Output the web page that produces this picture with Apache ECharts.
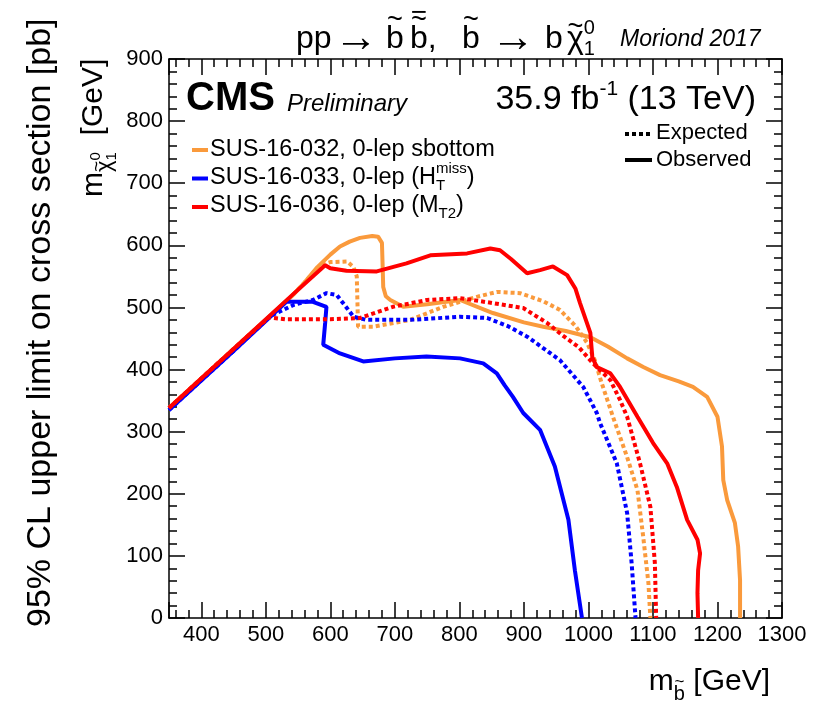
<!DOCTYPE html>
<html>
<head>
<meta charset="utf-8">
<title>CMS sbottom limits</title>
<script src="https://cdn.jsdelivr.net/npm/echarts@6/dist/echarts.min.js"></script>
<style>
  html, body { margin: 0; padding: 0; background: #fff; }
  #chart { width: 813px; height: 704px; }
</style>
</head>
<body>
<div id="chart"></div>
<script>
// contours: [m_sbottom, m_LSP] in GeV
const orangeObs = [[350,338],[450,433],[540,518],[560,540],[580,565],[600,585],[615,598],[630,606],[646,612],[665,615],[674,614],[680,604],[681,570],[682,533],[686,518],[693,512],[713,501],[750,505],[801,512],[852,491],[900,476],[930,469],[965,462],[1003,452],[1030,437],[1060,418],[1085,404],[1111,391],[1140,381],[1162,372],[1184,356],[1200,324],[1207,276],[1209,222],[1215,190],[1227,153],[1232,115],[1235,61],[1235,0]];
const orangeExp = [[350,338],[450,433],[540,518],[560,540],[584,568],[600,573],[626,574],[636,565],[641,550],[642,510],[643,469],[666,469],[724,480],[775,501],[827,517],[858,525],[894,523],[930,510],[956,496],[980,470],[998,443],[1010,415],[1020,380],[1038,324],[1060,259],[1076,206],[1085,130],[1093,56],[1096,0]];
const blueObs = [[350,335],[450,430],[532,509],[573,509],[594,501],[592,475],[589,440],[615,426],[651,413],[700,418],[749,421],[801,418],[837,410],[858,394],[870,375],[883,356],[899,330],[925,303],[948,244],[969,158],[979,77],[990,0]];
const blueExp = [[350,335],[450,430],[507,486],[543,504],[573,512],[594,523],[610,520],[625,500],[636,485],[656,480],[724,480],[801,485],[843,483],[875,470],[905,453],[956,415],[992,372],[1013,330],[1018,314],[1044,249],[1060,169],[1067,88],[1073,0]];
const redObs = [[350,338],[450,433],[540,519],[592,568],[600,563],[625,559],[672,558],[718,571],[755,584],[812,587],[848,595],[863,592],[880,578],[905,555],[925,560],[945,566],[967,552],[980,530],[987,507],[1003,459],[1006,420],[1013,404],[1034,394],[1049,372],[1076,324],[1100,282],[1122,249],[1137,211],[1153,158],[1169,126],[1173,104],[1170,77],[1169,40],[1170,0]];
const redExp = [[350,338],[450,433],[505,484],[530,481],[600,481],[646,483],[697,501],[750,512],[801,515],[852,507],[899,499],[936,475],[960,455],[985,436],[1007,410],[1034,383],[1049,351],[1060,324],[1080,249],[1096,179],[1103,88],[1105,0]];

const analyses = ['SUS-16-032, 0-lep sbottom', 'SUS-16-033, 0-lep (HTmiss)', 'SUS-16-036, 0-lep (MT2)'];
const colors = ['#FA9A3C', '#0000FF', '#FF0000'];

const FONT = '"Liberation Sans", Arial, Helvetica, sans-serif';
const ctx = document.createElement('canvas').getContext('2d');
function textWidth(t, size, st) {
  ctx.font = (st || 'normal') + ' ' + size + 'px ' + FONT;
  return ctx.measureText(t).width;
}
function txt(t, x, y, s, st, align) {
  return {
    type: 'text', x: x, y: y,
    style: { text: t, fontSize: s, fontFamily: FONT, fontStyle: st === 'italic' ? 'italic' : 'normal',
      fontWeight: st === 'bold' ? 'bold' : 'normal', fill: '#000', align: align || 'left', verticalAlign: 'middle' }
  };
}
// lay out pieces of text on one baseline: dy = sub/superscript shift, stack = next piece at same x,
// at = fixed offset, over = accents ('tilde' / 'bar'), tall = letter with ascender
function runs(parts) {
  let x = 0, stackW = 0;
  const children = [];
  parts.forEach(p => {
    if (p.at !== undefined) x = p.at;
    const w = textWidth(p.t, p.s, p.st);
    const base = p.dy || 0;
    children.push(txt(p.t, x, base - 0.34 * p.s, p.s, p.st));
    (p.over || []).forEach((o, k) => {
      const h = (p.tall ? 0.93 : 0.7) * p.s + k * 0.2 * p.s;
      if (o === 'tilde') {
        children.push(txt('~', x + w / 2, base - h, p.s * 0.85, null, 'center'));
      } else {
        children.push({ type: 'line', shape: { x1: x + w * 0.12, y1: base - h - 0.06 * p.s, x2: x + w * 0.88, y2: base - h - 0.06 * p.s },
          style: { stroke: '#000', lineWidth: Math.max(1.5, p.s * 0.06) } });
      }
    });
    if (p.stack) { stackW = Math.max(stackW, w); }
    else { x += Math.max(w, stackW); stackW = 0; }
  });
  return { children, width: x };
}
function textGroup(parts, x, y, opts) {
  opts = opts || {};
  const r = runs(parts);
  if (opts.align === 'right') r.children.forEach(c => { if (c.type === 'text') c.x -= r.width; else { c.shape.x1 -= r.width; c.shape.x2 -= r.width; } });
  return { type: 'group', x: x, y: y, rotation: opts.rotation || 0, children: r.children };
}

const T = 32;
const graphics = [
  textGroup([
    { t: 'pp', s: T },
    { t: '\u2192', s: 44, dy: 4, at: 38 },
    { t: 'b', s: T, at: 90, tall: true, over: ['tilde'] },
    { t: 'b', s: T, at: 114, tall: true, over: ['tilde', 'bar'] },
    { t: ',', s: T },
    { t: 'b', s: T, at: 166, tall: true, over: ['tilde'] },
    { t: '\u2192', s: 44, dy: 4, at: 195 },
    { t: 'b', s: T, at: 249 },
    { t: '\u03c7', s: T, at: 271, over: ['tilde'] },
    { t: '0', s: 20, dy: -15, stack: true },
    { t: '1', s: 20, dy: 6 }
  ], 296, 50),
  textGroup([{ t: 'Moriond 2017', s: 23, st: 'italic' }], 620, 47),
  textGroup([{ t: 'CMS', s: 40, st: 'bold' }], 186, 113),
  textGroup([{ t: 'Preliminary', s: 24, st: 'italic' }], 287, 112),
  textGroup([{ t: '35.9 fb', s: 34 }, { t: '-1', s: 21, dy: -15 }, { t: ' (13 TeV)', s: 34 }], 756, 111, { align: 'right' }),
  textGroup([{ t: 'SUS-16-032, 0-lep sbottom', s: 23.5 }], 210, 158),
  textGroup([{ t: 'SUS-16-033, 0-lep (H', s: 23.5 }, { t: 'miss', s: 15, dy: -12, stack: true }, { t: 'T', s: 15, dy: 5 }, { t: ')', s: 23.5 }], 210, 186),
  textGroup([{ t: 'SUS-16-036, 0-lep (M', s: 23.5 }, { t: 'T2', s: 15, dy: 5 }, { t: ')', s: 23.5 }], 210, 214),
  textGroup([{ t: 'Expected', s: 22 }], 656, 140),
  textGroup([{ t: 'Observed', s: 22 }], 656, 167),
  textGroup([{ t: '95% CL upper limit on cross section [pb]', s: 34 }], 52, 627, { rotation: Math.PI / 2 }),
  textGroup([{ t: 'm', s: 30 }, { t: '\u03c7', s: 22, dy: 8, over: ['tilde'] }, { t: '0', s: 15, dy: -3, stack: true }, { t: '1', s: 15, dy: 13 }, { t: '  [GeV]', s: 30 }], 104, 197, { rotation: Math.PI / 2 }),
  textGroup([{ t: 'm', s: 30 }, { t: 'b', s: 20, dy: 9, tall: true, over: ['tilde'] }, { t: ' [GeV]', s: 30 }], 770, 692, { align: 'right' }),
  { type: 'line', shape: { x1: 625, y1: 134, x2: 652, y2: 134 }, style: { stroke: '#000', lineWidth: 4, lineDash: [4, 3] } },
  { type: 'line', shape: { x1: 625, y1: 160, x2: 652, y2: 160 }, style: { stroke: '#000', lineWidth: 4 } }
];
colors.forEach((c, i) => {
  graphics.push({ type: 'line', shape: { x1: 192, y1: 150 + 28.5 * i, x2: 208, y2: 150 + 28.5 * i }, style: { stroke: c, lineWidth: 4 } });
});

const axisLine = { onZero: false, lineStyle: { color: '#000', width: 1.5 } };
const tick = { inside: true, length: 16, lineStyle: { color: '#000', width: 1.5 } };
const minor = { show: true, splitNumber: 5, length: 8, lineStyle: { color: '#000', width: 1.5 } };
const label = { color: '#000', fontSize: 22, fontFamily: FONT, margin: 6 };

function xAx(pos, showLabel) {
  return {
    type: 'value', min: 350, max: 1300, splitNumber: 10, position: pos,
    axisLine: axisLine, axisTick: tick, minorTick: minor, splitLine: { show: false },
    axisLabel: Object.assign({ show: showLabel, showMinLabel: true, formatter: v => (v % 100 === 0 ? String(v) : '') }, label)
  };
}
function yAx(pos, showLabel) {
  return {
    type: 'value', min: 0, max: 900, interval: 100, position: pos,
    axisLine: axisLine, axisTick: tick, minorTick: minor, splitLine: { show: false },
    axisLabel: Object.assign({ show: showLabel }, label)
  };
}

function contour(name, data, color, dotted) {
  return {
    name: name, type: 'line', data: data, symbol: 'none', smooth: false, silent: true,
    xAxisIndex: 0, yAxisIndex: 0,
    lineStyle: { color: color, width: 4, type: dotted ? [4, 3] : 'solid', cap: 'butt' }
  };
}

const chart = echarts.init(document.getElementById('chart'));
chart.setOption({
  animation: false,
  backgroundColor: '#fff',
  grid: { left: 169, right: 31, top: 59, bottom: 86 },
  xAxis: [xAx('bottom', true), xAx('top', false)],
  yAxis: [yAx('left', true), yAx('right', false)],
  series: [
    contour(analyses[0] + ' exp', orangeExp, colors[0], true),
    contour(analyses[0], orangeObs, colors[0], false),
    contour(analyses[1] + ' exp', blueExp, colors[1], true),
    contour(analyses[1], blueObs, colors[1], false),
    contour(analyses[2] + ' exp', redExp, colors[2], true),
    contour(analyses[2], redObs, colors[2], false)
  ],
  graphic: graphics
});
</script>
</body>
</html>
